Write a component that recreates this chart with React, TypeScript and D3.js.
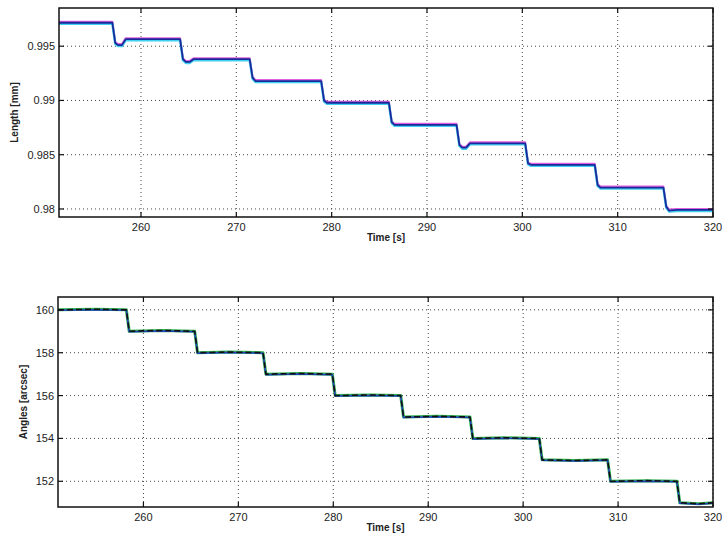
import React from "react";
import * as d3 from "d3";

// Top panel: Length [mm] vs Time [s]
const lengthTimes = [251.4, 257.0, 257.3, 257.6, 258.0, 258.4, 264.1, 264.4, 264.7, 265.1, 265.5, 271.4, 271.7, 272.0, 278.9, 279.2, 279.5, 286.0, 286.3, 286.6, 293.1, 293.4, 293.7, 294.1, 294.5, 300.3, 300.6, 300.9, 307.6, 307.9, 308.2, 314.8, 315.1, 315.4, 316.2, 320.0];
const lengthValues = [0.99716, 0.99716, 0.9953, 0.9951, 0.9951, 0.99565, 0.99565, 0.9938, 0.99355, 0.99355, 0.9938, 0.9938, 0.9921, 0.99179, 0.99179, 0.9900, 0.98979, 0.98979, 0.9880, 0.98775, 0.98775, 0.9859, 0.98565, 0.98565, 0.98605, 0.98605, 0.9842, 0.98407, 0.98407, 0.9822, 0.98197, 0.98197, 0.9802, 0.97985, 0.97991, 0.97991];

// Bottom panel: Angles [arcsec] vs Time [s]
const angleTimes = [251.0, 255.0, 258.2, 258.5, 262.0, 265.4, 265.7, 269.0, 272.6, 272.9, 276.5, 279.9, 280.2, 284.0, 287.1, 287.4, 291.0, 294.4, 294.7, 298.0, 301.7, 302.0, 305.5, 308.9, 309.2, 313.0, 316.2, 316.5, 318.5, 320.0];
const angleValues = [160.0, 160.03, 160.0, 159.0, 159.04, 159.0, 158.0, 158.03, 158.0, 157.0, 157.03, 157.0, 156.0, 156.03, 156.0, 155.0, 155.03, 155.0, 154.0, 154.03, 154.0, 153.0, 152.97, 153.0, 152.0, 152.03, 152.0, 151.0, 150.95, 151.0];

const xTicks = [260, 270, 280, 290, 300, 310, 320];
const lengthTicks = [0.98, 0.985, 0.99, 0.995];
const lengthTickLabels = ["0.98", "0.985", "0.99", "0.995"];
const angleTicks = [152, 154, 156, 158, 160];
const angleTickLabels = ["152", "154", "156", "158", "160"];

type Trace = { color: string; width: number; dy: number; dash?: string };

function Panel(props: {
  left: number; right: number; top: number; bottom: number;
  xDomain: [number, number]; yDomain: [number, number];
  times: number[]; values: number[];
  yTicks: number[]; yTickLabels: string[];
  yLabel: string; yLabelX: number; traces: Trace[];
}) {
  const { left, right, top, bottom, xDomain, yDomain, times, values, yTicks, yTickLabels, yLabel, yLabelX, traces } = props;
  const x = d3.scaleLinear().domain(xDomain).range([left, right]);
  const y = d3.scaleLinear().domain(yDomain).range([bottom, top]);
  const pts: [number, number][] = times.map((t, i) => [t, values[i]]);
  const line = d3.line<[number, number]>().x((d) => x(d[0])).y((d) => y(d[1]));
  const path = line(pts) || "";
  const font = "Arial, 'Liberation Sans', sans-serif";
  const tl = 5;
  return (
    <g>
      <rect x={left} y={top} width={right - left} height={bottom - top} fill="#fff" />
      {xTicks.map((t) => (
        <line key={"gx" + t} x1={x(t)} x2={x(t)} y1={top} y2={bottom} stroke="#444" strokeWidth={1} strokeDasharray="1,3" />
      ))}
      {yTicks.map((t) => (
        <line key={"gy" + t} x1={left} x2={right} y1={y(t)} y2={y(t)} stroke="#444" strokeWidth={1} strokeDasharray="1,3" />
      ))}
      {traces.map((tr, i) => (
        <path key={"tr" + i} d={path} fill="none" stroke={tr.color} strokeWidth={tr.width}
          strokeDasharray={tr.dash} transform={`translate(0,${tr.dy})`} strokeLinejoin="round" />
      ))}
      {xTicks.map((t) => (
        <g key={"tx" + t}>
          <line x1={x(t)} x2={x(t)} y1={bottom} y2={bottom - tl} stroke="#111" strokeWidth={1.2} />
          <line x1={x(t)} x2={x(t)} y1={top} y2={top + tl} stroke="#111" strokeWidth={1.2} />
          <text x={x(t)} y={bottom + 14} textAnchor="middle" fontFamily={font} fontSize={11} fill="#222">{t}</text>
        </g>
      ))}
      {yTicks.map((t, i) => (
        <g key={"ty" + t}>
          <line x1={left} x2={left + tl} y1={y(t)} y2={y(t)} stroke="#111" strokeWidth={1.2} />
          <line x1={right} x2={right - tl} y1={y(t)} y2={y(t)} stroke="#111" strokeWidth={1.2} />
          <text x={left - 4} y={y(t) + 4} textAnchor="end" fontFamily={font} fontSize={11} fill="#222">{yTickLabels[i]}</text>
        </g>
      ))}
      <rect x={left} y={top} width={right - left} height={bottom - top} fill="none" stroke="#111" strokeWidth={1.5} />
      <text x={(left + right) / 2} y={bottom + 24} textAnchor="middle" fontFamily={font} fontSize={10} fontWeight="bold" fill="#222">Time [s]</text>
      <text transform={`translate(${yLabelX},${(top + bottom) / 2}) rotate(-90)`} textAnchor="middle" fontFamily={font} fontSize={10} fontWeight="bold" fill="#222">{yLabel}</text>
    </g>
  );
}

export default function App() {
  return (
    <svg width={723} height={541} style={{ position: "absolute", left: 0, top: 0, background: "#fff" }}>
      <rect width={723} height={541} fill="#fff" />
      <Panel left={59} right={713} top={8} bottom={217}
        xDomain={[251.4, 320]} yDomain={[0.97926, 0.99852]}
        times={lengthTimes} values={lengthValues}
        yTicks={lengthTicks} yTickLabels={lengthTickLabels}
        yLabel="Length [mm]" yLabelX={18}
        traces={[
          { color: "#e060e0", width: 2, dy: -1 },
          { color: "#40d0f0", width: 2.5, dy: 1 },
          { color: "#1a2a9a", width: 1.8, dy: 0 },
        ]} />
      <Panel left={58} right={713} top={297} bottom={507}
        xDomain={[251.0, 320]} yDomain={[150.8, 160.6]}
        times={angleTimes} values={angleValues}
        yTicks={angleTicks} yTickLabels={angleTickLabels}
        yLabel="Angles [arcsec]" yLabelX={27}
        traces={[
          { color: "#30b050", width: 3, dy: 0 },
          { color: "#2040c0", width: 1.5, dy: 0.5 },
          { color: "#111", width: 1.6, dy: 0, dash: "6,3" },
        ]} />
    </svg>
  );
}
